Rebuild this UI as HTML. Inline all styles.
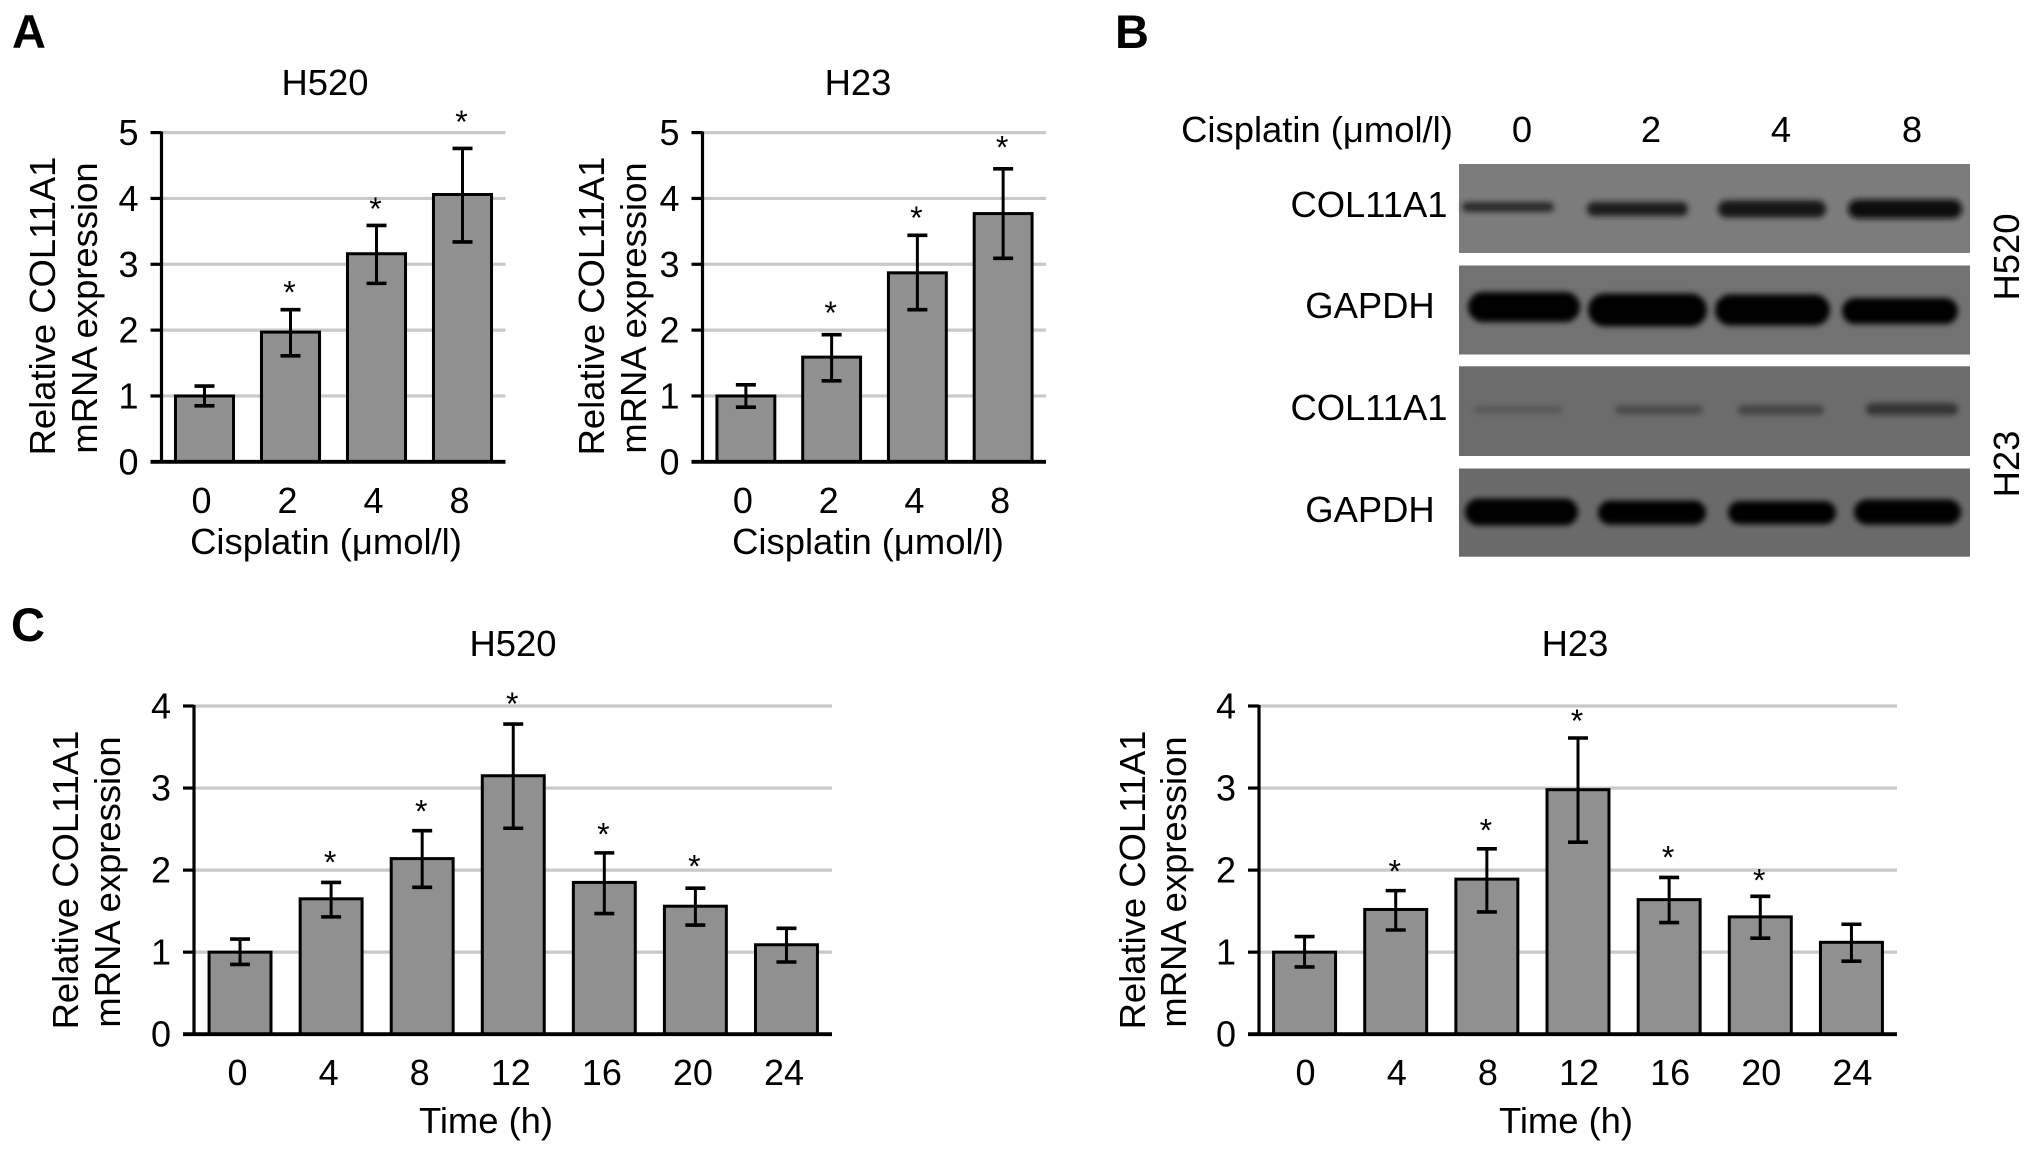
<!DOCTYPE html>
<html lang="en">
<head>
<meta charset="utf-8">
<title>COL11A1 expression after cisplatin treatment</title>
<style>
html,body{margin:0;padding:0;background:#fff;}
svg{display:block;}
text{font-family:"Liberation Sans",Arial,sans-serif;fill:#000;}
.t{font-size:36.4px;}
.l{font-size:47px;font-weight:bold;fill:#000;}
</style>
</head>
<body>
<svg id="figure" xmlns="http://www.w3.org/2000/svg" width="2031" height="1153" viewBox="0 0 2031 1153">
<defs>
<filter id="blur-band" x="-20%" y="-100%" width="140%" height="300%"><feGaussianBlur stdDeviation="3"/></filter>
</defs>
<rect width="2031" height="1153" fill="#fff"/>

<text class="l" x="12" y="48">A</text>
<text class="l" x="1115" y="48">B</text>
<text class="l" x="11" y="641">C</text>

<text class="t" x="325" y="95" text-anchor="middle">H520</text>
<text class="t" x="858" y="95" text-anchor="middle">H23</text>
<text class="t" x="513" y="656" text-anchor="middle">H520</text>
<text class="t" x="1575" y="656" text-anchor="middle">H23</text>

<text class="t" transform="translate(55,306) rotate(-90)" text-anchor="middle">Relative COL11A1</text>
<text class="t" transform="translate(97,308) rotate(-90)" text-anchor="middle">mRNA expression</text>
<text class="t" transform="translate(604,306) rotate(-90)" text-anchor="middle">Relative COL11A1</text>
<text class="t" transform="translate(646,308) rotate(-90)" text-anchor="middle">mRNA expression</text>
<text class="t" transform="translate(78,880) rotate(-90)" text-anchor="middle">Relative COL11A1</text>
<text class="t" transform="translate(120,882) rotate(-90)" text-anchor="middle">mRNA expression</text>
<text class="t" transform="translate(1145,880) rotate(-90)" text-anchor="middle">Relative COL11A1</text>
<text class="t" transform="translate(1186,882) rotate(-90)" text-anchor="middle">mRNA expression</text>

<text class="t" x="326" y="554" text-anchor="middle">Cisplatin (μmol/l)</text>
<text class="t" x="868" y="554" text-anchor="middle">Cisplatin (μmol/l)</text>
<text class="t" x="486" y="1133" text-anchor="middle">Time (h)</text>
<text class="t" x="1566" y="1133" text-anchor="middle">Time (h)</text>

<g id="blots"></g>
<text class="t" x="1317" y="142" text-anchor="middle">Cisplatin (μmol/l)</text>
<text class="t" x="1522" y="142" text-anchor="middle">0</text>
<text class="t" x="1651" y="142" text-anchor="middle">2</text>
<text class="t" x="1781" y="142" text-anchor="middle">4</text>
<text class="t" x="1912" y="142" text-anchor="middle">8</text>
<text class="t" x="1369" y="217" text-anchor="middle">COL11A1</text>
<text class="t" x="1370" y="318" text-anchor="middle">GAPDH</text>
<text class="t" x="1369" y="420" text-anchor="middle">COL11A1</text>
<text class="t" x="1370" y="522" text-anchor="middle">GAPDH</text>
<text class="t" transform="translate(2019,257) rotate(-90)" text-anchor="middle">H520</text>
<text class="t" transform="translate(2019,464) rotate(-90)" text-anchor="middle">H23</text>
</svg>

<script>
// Chart data
const doseCategories = ['0', '2', '4', '8'];
const doseTicks = [0, 1, 2, 3, 4, 5];
const timeCategories = ['0', '4', '8', '12', '16', '20', '24'];
const timeTicks = [0, 1, 2, 3, 4];

const doseH520Means = [1.0, 1.97, 3.16, 4.06];
const doseH520Upper = [1.15, 2.31, 3.59, 4.76];
const doseH520Lower = [0.85, 1.61, 2.71, 3.34];
const doseH520Stars = [null, 2.64, 3.91, 5.23];

const doseH23Means = [1.0, 1.59, 2.87, 3.77];
const doseH23Upper = [1.17, 1.93, 3.44, 4.45];
const doseH23Lower = [0.83, 1.23, 2.31, 3.09];
const doseH23Stars = [null, 2.33, 3.77, 4.84];

const timeH520Means = [1.0, 1.65, 2.14, 3.15, 1.85, 1.56, 1.09];
const timeH520Upper = [1.16, 1.85, 2.48, 3.78, 2.21, 1.78, 1.29];
const timeH520Lower = [0.85, 1.43, 1.79, 2.51, 1.47, 1.33, 0.88];
const timeH520Stars = [null, 2.15, 2.77, 4.08, 2.49, 2.10, null];

const timeH23Means = [1.0, 1.52, 1.89, 2.98, 1.64, 1.43, 1.12];
const timeH23Upper = [1.19, 1.75, 2.26, 3.61, 1.91, 1.68, 1.34];
const timeH23Lower = [0.82, 1.27, 1.49, 2.34, 1.36, 1.17, 0.89];
const timeH23Stars = [null, 2.04, 2.54, 3.87, 2.21, 1.93, null];

const SVGNS = 'http://www.w3.org/2000/svg';
const root = document.getElementById('figure');

function make(tag, attrs, parent) {
  const el = document.createElementNS(SVGNS, tag);
  for (const k in attrs) el.setAttribute(k, attrs[k]);
  parent.appendChild(el);
  return el;
}

function drawChart(cfg) {
  const g = make('g', {}, root);
  
  

  const yMax = cfg.ticks[cfg.ticks.length - 1];
  const yScale = v => cfg.y0 - v * (cfg.y0 - cfg.yTop) / yMax;
  const band = (cfg.right - cfg.left) / cfg.categories.length;
  const xScale = i => cfg.left + band * (i + 0.5);
  const barW = band * cfg.barRatio;

  cfg.ticks.forEach(t => {
    if (t > 0) {
      const grid = make('line', {x1: cfg.axisX, x2: cfg.right, y1: yScale(t), y2: yScale(t), stroke: '#c9c9c9', 'stroke-width': 3.2}, g);
      
      
    }
    const tick = make('line', {x1: cfg.axisX - 11, x2: cfg.axisX, y1: yScale(t), y2: yScale(t), stroke: '#000', 'stroke-width': 3.2}, g);
    
    
    const lab = make('text', {x: cfg.axisX - 23, y: yScale(t) + 12.5, 'text-anchor': 'end', 'font-size': 36}, g);
    lab.textContent = String(t);
    
    
  });

  cfg.categories.forEach((c, i) => {
    const x = xScale(i);
    const top = yScale(cfg.means[i]);
    const bar = make('rect', {x: x - barW / 2, y: top, width: barW, height: cfg.y0 - top, fill: '#909090', stroke: '#000', 'stroke-width': 3}, g);
    
    

    const up = yScale(cfg.upper[i]);
    const lo = yScale(cfg.lower[i]);
    const stem = make('line', {x1: x, x2: x, y1: up, y2: lo, stroke: '#000', 'stroke-width': 3}, g);
    
    
    const capTop = make('line', {x1: x - 10, x2: x + 10, y1: up, y2: up, stroke: '#000', 'stroke-width': 3.6}, g);
    
    
    const capBot = make('line', {x1: x - 10, x2: x + 10, y1: lo, y2: lo, stroke: '#000', 'stroke-width': 3.6}, g);
    
    

    if (cfg.stars[i] !== null) {
      const star = make('text', {x: x - 1, y: yScale(cfg.stars[i]) + 15.5, 'text-anchor': 'middle', 'font-size': 32}, g);
      star.textContent = '*';
      
      
    }

    const xl = make('text', {x: x + cfg.xLabelShift, y: cfg.xLabelY, 'text-anchor': 'middle', 'font-size': 36}, g);
    xl.textContent = c;
    
    
  });

  const yAxis = make('line', {x1: cfg.axisX, x2: cfg.axisX, y1: cfg.yTop - 1, y2: cfg.y0, stroke: '#000', 'stroke-width': 3.2}, g);
  
  
  const xAxis = make('line', {x1: cfg.axisX - 11, x2: cfg.right, y1: cfg.y0, y2: cfg.y0, stroke: '#000', 'stroke-width': 3.8}, g);
  
  
}

drawChart({name: 'chart-a-h520', categories: doseCategories, ticks: doseTicks, means: doseH520Means, upper: doseH520Upper, lower: doseH520Lower, stars: doseH520Stars,
  left: 161.5, right: 505.5, axisX: 161.5, y0: 461.8, yTop: 132.6, barRatio: 0.675, xLabelShift: -3, xLabelY: 513});
drawChart({name: 'chart-a-h23', categories: doseCategories, ticks: doseTicks, means: doseH23Means, upper: doseH23Upper, lower: doseH23Lower, stars: doseH23Stars,
  left: 703, right: 1046, axisX: 702.5, y0: 461.8, yTop: 132.6, barRatio: 0.675, xLabelShift: -3, xLabelY: 513});
drawChart({name: 'chart-c-h520', categories: timeCategories, ticks: timeTicks, means: timeH520Means, upper: timeH520Upper, lower: timeH520Lower, stars: timeH520Stars,
  left: 194.5, right: 832, axisX: 194, y0: 1034.2, yTop: 706, barRatio: 0.68, xLabelShift: -2.5, xLabelY: 1085});
drawChart({name: 'chart-c-h23', categories: timeCategories, ticks: timeTicks, means: timeH23Means, upper: timeH23Upper, lower: timeH23Lower, stars: timeH23Stars,
  left: 1259, right: 1897, axisX: 1259, y0: 1034.2, yTop: 706, barRatio: 0.68, xLabelShift: 1, xLabelY: 1085});

// Western blot image approximation (photographic content, not chart data)
const blotRows = [
  {y: 164, h: 89, fill: '#7c7c7c', name: 'blot-h520-col11a1'},
  {y: 265.5, h: 89, fill: '#727272', name: 'blot-h520-gapdh'},
  {y: 366.3, h: 89.7, fill: '#6c6c6c', name: 'blot-h23-col11a1'},
  {y: 468.5, h: 88.2, fill: '#6a6a6a', name: 'blot-h23-gapdh'}
];
const blotBands = [
  [0, 1462, 1554, 207, 10, '#2a2a2a'], [0, 1587, 1688, 209, 14, '#1c1c1c'], [0, 1718, 1826, 209, 17, '#141414'], [0, 1848, 1962, 209, 19, '#0e0e0e'],
  [1, 1468, 1580, 307, 30, '#050505'], [1, 1588, 1707, 310, 33, '#050505'], [1, 1715, 1830, 310, 31, '#050505'], [1, 1842, 1958, 311, 26, '#050505'],
  [2, 1474, 1563, 409.6, 7, '#565656'], [2, 1615, 1703, 410, 9, '#4c4c4c'], [2, 1738, 1824, 410, 10, '#444444'], [2, 1866, 1958, 409, 12, '#363636'],
  [3, 1465, 1578, 512, 27, '#050505'], [3, 1598, 1706, 512.6, 24, '#050505'], [3, 1728, 1836, 512.6, 23, '#050505'], [3, 1854, 1961, 512, 25, '#050505']
];
const blots = document.getElementById('blots');
blotRows.forEach(r => {
  const rect = make('rect', {x: 1459, y: r.y, width: 511, height: r.h, fill: r.fill}, blots);
  
  
});
blotBands.forEach(b => {
  const rect = make('rect', {x: b[1], y: b[3] - b[4] / 2, width: b[2] - b[1], height: b[4], rx: b[4] / 2, ry: b[4] / 2, fill: b[5], filter: 'url(#blur-band)'}, blots);
  
  
});
</script>
</body>
</html>
